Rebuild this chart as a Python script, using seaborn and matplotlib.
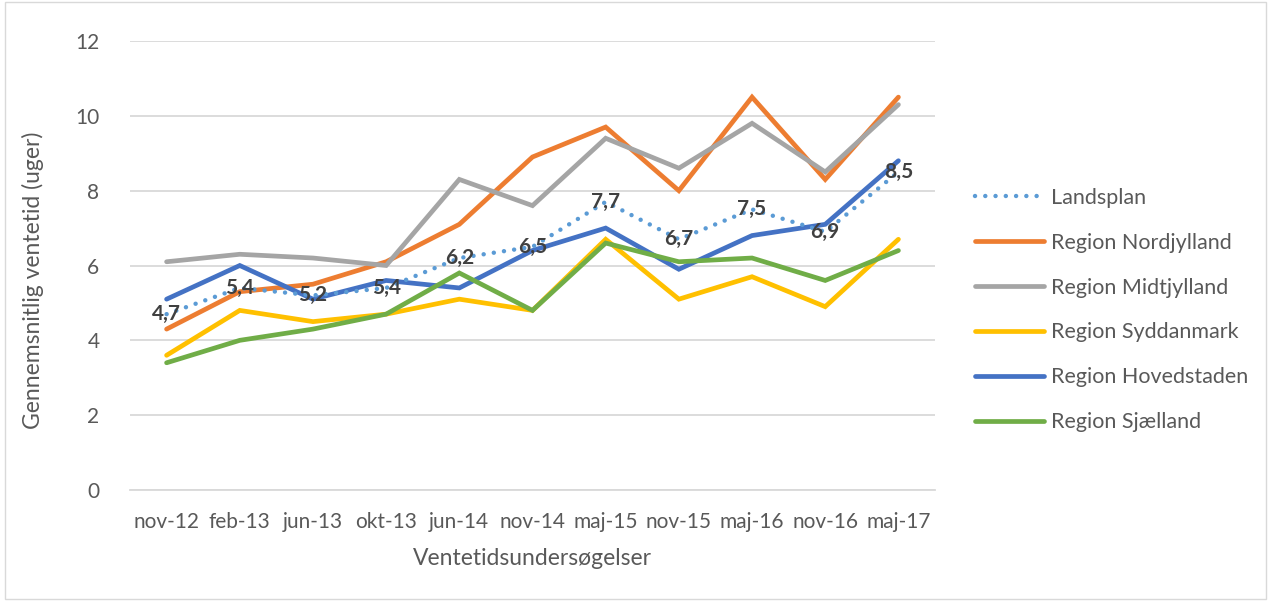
import matplotlib
matplotlib.use("Agg")
import matplotlib.pyplot as plt
from matplotlib.lines import Line2D
from matplotlib.patches import Rectangle
import seaborn as sns
import pandas as pd
import numpy as np

categories = ["nov-12", "feb-13", "jun-13", "okt-13", "jun-14", "nov-14",
              "maj-15", "nov-15", "maj-16", "nov-16", "maj-17"]
landsplan = [4.7, 5.4, 5.2, 5.4, 6.2, 6.5, 7.7, 6.7, 7.5, 6.9, 8.5]
nordjylland = [4.3, 5.3, 5.5, 6.1, 7.1, 8.9, 9.7, 8.0, 10.5, 8.3, 10.5]
midtjylland = [6.1, 6.3, 6.2, 6.0, 8.3, 7.6, 9.4, 8.6, 9.8, 8.5, 10.3]
syddanmark = [3.6, 4.8, 4.5, 4.7, 5.1, 4.8, 6.7, 5.1, 5.7, 4.9, 6.7]
hovedstaden = [5.1, 6.0, 5.1, 5.6, 5.4, 6.4, 7.0, 5.9, 6.8, 7.1, 8.8]
sjaelland = [3.4, 4.0, 4.3, 4.7, 5.8, 4.8, 6.6, 6.1, 6.2, 5.6, 6.4]
landsplan_labels = ["4,7", "5,4", "5,2", "5,4", "6,2", "6,5", "7,7", "6,7", "7,5", "6,9", "8,5"]

series = [
    ("Landsplan", landsplan, "#5B9BD5"),
    ("Region Nordjylland", nordjylland, "#ED7D31"),
    ("Region Midtjylland", midtjylland, "#A5A5A5"),
    ("Region Syddanmark", syddanmark, "#FFC000"),
    ("Region Hovedstaden", hovedstaden, "#4472C4"),
    ("Region Sjælland", sjaelland, "#70AD47"),
]

sns.set_style("white")
plt.rcParams['font.family'] = ['Lato', 'DejaVu Sans']

fig = plt.figure(figsize=(12.71, 6.01), dpi=100)
ax = fig.add_axes([130/1271, 1-490/601, (935-130)/1271, (490-41)/601])

pos = np.arange(len(categories))
dotted = (0, (0.01, 2.3))
draw_order = [1, 2, 3, 4, 5, 0]
for i in draw_order:
    name, vals, col = series[i]
    df = pd.DataFrame({"x": pos, "y": vals})
    if name == "Landsplan":
        sns.lineplot(data=df, x="x", y="y", ax=ax, color=col, linewidth=3.2,
                     linestyle=dotted, dash_capstyle="round", zorder=3)
    else:
        sns.lineplot(data=df, x="x", y="y", ax=ax, color=col, linewidth=3.4,
                     solid_capstyle="round", solid_joinstyle="miter", zorder=2)

for xi, yi, lab in zip(pos, landsplan, landsplan_labels):
    ax.text(xi, yi, lab, ha="center", va="center", fontsize=15,
            fontweight="bold", color="#404040", zorder=4)

ax.set_xlim(-0.5, 10.5)
ax.set_ylim(0, 12)
ax.set_yticks([0, 2, 4, 6, 8, 10, 12])
ax.set_yticklabels(["0", "2", "4", "6", "8", "10", "12"])
ax.set_xticks(pos)
ax.set_xticklabels(categories)
ax.set_xticks(np.arange(-0.5, 11, 1), minor=True)
ax.tick_params(axis="x", which="major", length=0, pad=16, labelsize=15, colors="#595959")
ax.tick_params(axis="x", which="minor", length=6, color="#D9D9D9", width=1.3, direction="out")
ax.tick_params(axis="y", length=0, pad=22, labelsize=15, colors="#595959")
ax.yaxis.grid(True, color="#D9D9D9", linewidth=1.3)
ax.xaxis.grid(False)
for s in ["top", "right", "left"]:
    ax.spines[s].set_visible(False)
ax.spines["bottom"].set_color("#D9D9D9")
ax.spines["bottom"].set_linewidth(1.3)
ax.set_axisbelow(True)

ax.set_xlabel("Ventetidsundersøgelser", fontsize=16.5, color="#595959")
ax.set_ylabel("Gennemsnitlig ventetid (uger)", fontsize=16.5, color="#595959")
ax.xaxis.set_label_coords(0.5, -(548-490)/449, transform=ax.transAxes)
ax.yaxis.set_label_coords(-(130-44)/805, (490-280)/449, transform=ax.transAxes)

handles = []
for name, vals, col in series:
    if name == "Landsplan":
        h = Line2D([], [], color=col, linewidth=3.2, linestyle=dotted, dash_capstyle="round")
    else:
        h = Line2D([], [], color=col, linewidth=3.4, solid_capstyle="round")
    handles.append(h)
leg = fig.legend(handles, [s[0] for s in series], loc="center left",
                 bbox_to_anchor=(975/1271, 1-310/601), frameon=False,
                 fontsize=15.5, handlelength=3.2, labelspacing=1.16, handletextpad=0.35,
                 borderpad=0, borderaxespad=0)
for t in leg.get_texts():
    t.set_color("#595959")

fig.patches.append(Rectangle((0.004, 0.004), 0.992, 0.992, transform=fig.transFigure,
                             fill=False, edgecolor="#D9D9D9", linewidth=1))

fig.savefig("out.png", dpi=100, facecolor="white")
